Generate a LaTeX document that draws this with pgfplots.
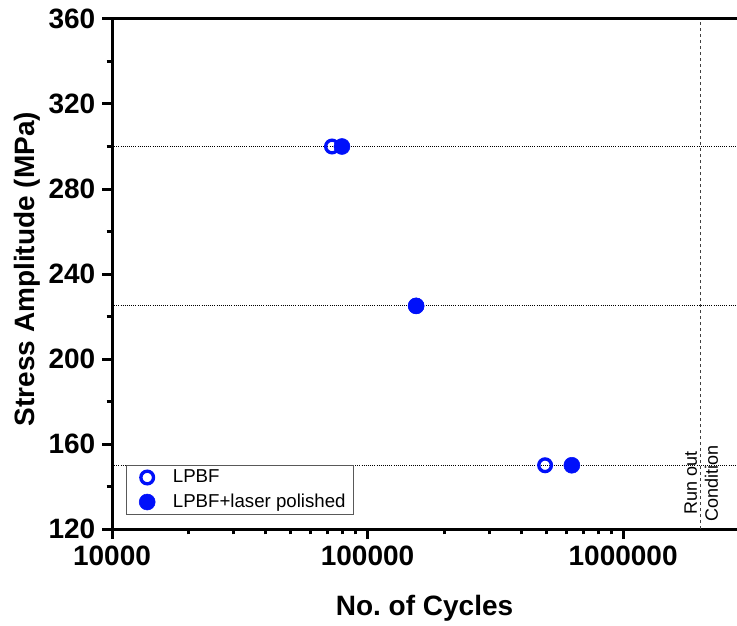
\documentclass[border=0pt]{standalone}
\usepackage{fontspec}
\setmainfont{Liberation Sans}
\usepackage{pgfplots}
\pgfplotsset{compat=1.18}
\definecolor{ptblue}{RGB}{0,16,250}
\begin{document}
\begin{tikzpicture}
\begin{axis}[
  at={(0,0)}, anchor=south west,
  scale only axis,
  width=468.75pt, height=382.5pt,
  xmode=log,
  xmin=1e4, xmax=2.79e6,
  ymin=120, ymax=360,
  axis x line*=bottom, axis y line*=left,
  x axis line style={-}, y axis line style={-},
  every non boxed x axis/.append style={x axis line style={-}},
  every non boxed y axis/.append style={y axis line style={-}},
  axis line style={line width=2.25pt, black},
  xtick={1e4,1e5,1e6},
  xticklabels={10000,100000,1000000},
  ytick={120,160,200,240,280,320,360},
  minor y tick num=1,
  tick align=outside,
  major tick length=7.5pt,
  minor tick length=4pt,
  every tick/.style={black, line width=2.25pt},
  /pgf/number format/assume math mode=true,
  ticklabel style={font=\bfseries\fontsize{21}{24}\selectfont},
  xticklabel style={yshift=-2pt},
  yticklabel style={xshift=-1.5pt},
  xlabel={No.\ of Cycles},
  ylabel={Stress Amplitude (MPa)},
  label style={font=\bfseries\fontsize{21}{24}\selectfont},
  xlabel style={at={(axis description cs:0.5,0)}, anchor=center, yshift=-59.25pt},
  ylabel style={at={(axis description cs:0,0.5)}, anchor=center, yshift=63.75pt, xshift=3.75pt},
  clip=false,
  legend cell align=left,
  legend image code/.code={%
    \path[draw=none, fill=none] (0pt,0pt) (28.75pt,0pt);
    \draw[#1] plot coordinates {(11.5pt,0pt)};},
  legend style={at={(rel axis cs:0.0224,0.0275)}, anchor=south west,
    draw=gray!70!black, line width=0.8pt,
    font=\fontsize{14}{17}\selectfont,
    inner xsep=4pt, inner ysep=1.5pt, row sep=3pt},
]
\addplot[only marks, mark=o, mark size=4.75pt, ptblue, mark options={line width=2.5pt, ptblue}]
  coordinates {(72600,300) (154900,225) (495000,150)};
\addlegendentry{LPBF}
\addplot[only marks, mark=*, mark size=6pt, ptblue, mark options={line width=0.4pt, fill=ptblue, draw=ptblue}]
  coordinates {(79400,300) (154900,225) (630000,150)};
\addlegendentry{LPBF+laser polished}
\addplot[black, line width=0.6pt, densely dotted, forget plot] coordinates {(1e4,300) (2.79e6,300)};
\addplot[black, line width=0.6pt, densely dotted, forget plot] coordinates {(1e4,225) (2.79e6,225)};
\addplot[black, line width=0.6pt, densely dotted, forget plot] coordinates {(1e4,150) (2.79e6,150)};
\addplot[black!75, line width=0.6pt, dash pattern=on 2.5pt off 2pt, forget plot] coordinates {(2e6,120) (2e6,360)};
\draw[line width=2.25pt, black] (rel axis cs:0,1) -- (rel axis cs:1,1);
\node[rotate=90, align=center, font=\fontsize{13.5}{15.75}\selectfont] at (axis cs:2.02e6,141.6) {Run out\\Condition};
\end{axis}
\pgfresetboundingbox
\path (-84pt,-72pt) rectangle (468.75pt,396.75pt);
\end{tikzpicture}
\end{document}
